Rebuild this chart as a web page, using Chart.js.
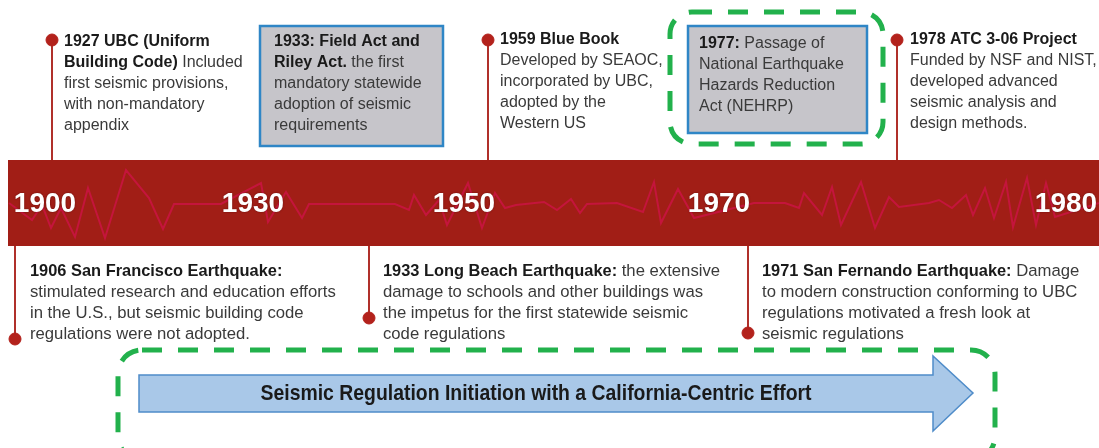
<!DOCTYPE html>
<html>
<head>
<meta charset="utf-8">
<script src="https://cdn.jsdelivr.net/npm/chart.js@4"></script>
<style>
  body { margin: 0; background: #ffffff; }
  #wrap { width: 1099px; height: 448px; position: relative; }
</style>
</head>
<body>
<div id="wrap"><canvas id="timeline"></canvas></div>
<script>
// timeline years shown on the red band
var yearLabels = ['1900', '1930', '1950', '1970', '1980'];
var yearPos = [45, 253, 464, 719, 1066];

// seismograph trace along the band (position, amplitude)
var waveT = [9, 32, 42, 51, 61, 75, 88, 105, 126, 149, 163, 174, 221, 261, 268, 286, 302, 309,
  395, 409, 414, 426, 439, 447, 468, 482, 495, 505, 516, 544, 557, 571, 580, 587, 617, 643,
  654, 661, 678, 694, 754, 785, 799, 804, 822, 832, 841, 861, 875, 889, 899, 929, 939, 952,
  966, 973, 985, 994, 1006, 1013, 1027, 1036, 1046, 1055, 1099];
var waveAmp = [0, -17, -2, -25, -5, -34, 15, -35, 33, 5, -26, -1, -1, 20, -19, 11, -15, -1,
  -1, -7, 8, -12, 3, -22, 20, -25, 10, -5, -2, 1, -7, 4, -10, -1, 0, -9,
  21, -20, 14, -15, 0, 0, -5, 10, -12, 16, -22, 21, -25, 6, -4, 0, 3, -5,
  8, -12, 15, -15, 21, -24, 25, -22, 20, -14, 0];

// events above the band
var topYears = [1927, 1959, 1978];
var topPos = [52, 488, 897];
// events below the band
var bottomYears = [1906, 1933, 1971];
var bottomPos = [15, 369, 748];

var notes = {
  1927: ['**1927 UBC (Uniform**', '**Building Code)** Included', 'first seismic provisions,', 'with non-mandatory', 'appendix'],
  1959: ['**1959 Blue Book**', 'Developed by SEAOC,', 'incorporated by UBC,', 'adopted by the', 'Western US'],
  1978: ['**1978 ATC 3-06 Project**', 'Funded by NSF and NIST,', 'developed advanced', 'seismic analysis and', 'design methods.'],
  1906: ['**1906 San Francisco Earthquake:**', 'stimulated research and education efforts', 'in the U.S., but seismic building code', 'regulations were not adopted.'],
  1933: ['**1933 Long Beach Earthquake:** the extensive', 'damage to schools and other buildings was', 'the impetus for the first statewide seismic', 'code regulations'],
  1971: ['**1971 San Fernando Earthquake:** Damage', 'to modern construction conforming to UBC', 'regulations motivated a fresh look at', 'seismic regulations']
};
var boxNotes = {
  field: ['**1933: Field Act and**', '**Riley Act.** the first', 'mandatory statewide', 'adoption of seismic', 'requirements'],
  nehrp: ['**1977:** Passage of', 'National Earthquake', 'Hazards Reduction', 'Act (NEHRP)']
};
var arrowText = 'Seismic Regulation Initiation with a California-Centric Effort';

var FONT = '"Liberation Sans", Arial, sans-serif';
var RED = '#a11e16';
var DOT = '#b3221c';
var GREEN = '#22b14c';
var bottomDotY = [339, 318, 333];

// draw one line with **bold** parts
function richLine(ctx, str, x, y, boldSize, normSize) {
  var parts = str.split('**');
  for (var i = 0; i < parts.length; i++) {
    if (!parts[i]) continue;
    var bold = i % 2 === 1;
    ctx.font = bold ? 'bold ' + boldSize + 'px ' + FONT : normSize + 'px ' + FONT;
    ctx.fillStyle = bold ? '#1a1a1a' : '#3a3a3a';
    ctx.fillText(parts[i], x, y);
    x += ctx.measureText(parts[i]).width;
  }
}

function textBlock(ctx, lines, x, y, boldSize, normSize) {
  ctx.textAlign = 'left';
  ctx.textBaseline = 'middle';
  lines.forEach(function(l, i) { richLine(ctx, l, x, y + i * 21, boldSize || 16, normSize || 16); });
}

function dashedRound(ctx, x, y, w, h, r) {
  ctx.save();
  ctx.strokeStyle = GREEN;
  ctx.lineWidth = 5;
  ctx.setLineDash([20, 16]);
  ctx.beginPath();
  ctx.roundRect(x, y, w, h, r);
  ctx.stroke();
  ctx.restore();
}

function greyBox(ctx, x, y, w, h) {
  ctx.save();
  ctx.fillStyle = '#c6c5ca';
  ctx.fillRect(x, y, w, h);
  ctx.strokeStyle = '#2f86c6';
  ctx.lineWidth = 2.5;
  ctx.strokeRect(x, y, w, h);
  ctx.restore();
}

var backdrop = {
  id: 'backdrop',
  beforeDatasetsDraw: function(chart) {
    var ctx = chart.ctx;
    var xs = chart.scales.x, ys = chart.scales.y;
    ctx.save();
    // stems
    ctx.strokeStyle = '#b0302a';
    ctx.lineWidth = 2;
    topPos.forEach(function(p) {
      ctx.beginPath();
      ctx.moveTo(xs.getPixelForValue(p), ys.getPixelForValue(40));
      ctx.lineTo(xs.getPixelForValue(p), ys.getPixelForValue(160));
      ctx.stroke();
    });
    bottomPos.forEach(function(p, i) {
      ctx.beginPath();
      ctx.moveTo(xs.getPixelForValue(p), ys.getPixelForValue(246));
      ctx.lineTo(xs.getPixelForValue(p), ys.getPixelForValue(bottomDotY[i]));
      ctx.stroke();
    });
    // red band
    ctx.fillStyle = RED;
    ctx.fillRect(xs.getPixelForValue(8), ys.getPixelForValue(160), chart.width, ys.getPixelForValue(246) - ys.getPixelForValue(160));
    ctx.restore();
  },
  afterDatasetsDraw: function(chart) {
    var ctx = chart.ctx;
    var xs = chart.scales.x;
    ctx.save();
    // year labels
    ctx.font = 'bold 28px ' + FONT;
    ctx.textAlign = 'center';
    ctx.textBaseline = 'middle';
    ctx.fillStyle = '#ffffff';
    ctx.shadowColor = 'rgba(60,0,0,0.6)';
    ctx.shadowBlur = 2;
    yearLabels.forEach(function(l, i) {
      ctx.fillText(l, xs.getPixelForValue(yearPos[i]), 204);
    });
    ctx.restore();

    ctx.save();
    // boxes
    greyBox(ctx, 260, 26, 183, 120);
    greyBox(ctx, 688, 26, 179, 107);
    dashedRound(ctx, 670, 12, 213, 132, 22);
    textBlock(ctx, boxNotes.field, 274, 42);
    textBlock(ctx, boxNotes.nehrp, 699, 44);

    // event texts
    textBlock(ctx, notes[1927], 64, 42);
    textBlock(ctx, notes[1959], 500, 40);
    textBlock(ctx, notes[1978], 910, 40);
    textBlock(ctx, notes[1906], 30, 271, 16.4, 16.7);
    textBlock(ctx, notes[1933], 383, 271, 16.4, 16.7);
    textBlock(ctx, notes[1971], 762, 271, 16.4, 16.7);

    // bottom arrow
    dashedRound(ctx, 118, 350, 877, 110, 24);
    ctx.beginPath();
    ctx.moveTo(139, 375);
    ctx.lineTo(933, 375);
    ctx.lineTo(933, 356);
    ctx.lineTo(973, 393);
    ctx.lineTo(933, 431);
    ctx.lineTo(933, 412);
    ctx.lineTo(139, 412);
    ctx.closePath();
    ctx.fillStyle = '#a9c8e8';
    ctx.fill();
    ctx.strokeStyle = '#4f8cc9';
    ctx.lineWidth = 1.5;
    ctx.stroke();
    ctx.font = 'bold 22px ' + FONT;
    ctx.fillStyle = '#1a1a1a';
    ctx.textAlign = 'center';
    ctx.textBaseline = 'middle';
    var w = ctx.measureText(arrowText).width;
    ctx.translate(536, 394);
    ctx.scale(551 / w, 1);
    ctx.fillText(arrowText, 0, 0);
    ctx.restore();
  }
};

var ctx = document.getElementById('timeline').getContext('2d');
var chart = new Chart(ctx, {
  type: 'scatter',
  data: {
    datasets: [{
      label: 'trace',
      data: waveT.map(function(t, i) { return { x: t, y: waveAmp[i] }; }),
      yAxisID: 'yw',
      showLine: true,
      borderColor: '#c4153c',
      borderWidth: 2,
      pointRadius: 0,
      tension: 0
    }, {
      label: 'top events',
      data: topPos.map(function(p) { return { x: p, y: 40 }; }),
      yAxisID: 'y',
      pointRadius: 6,
      backgroundColor: DOT,
      borderColor: DOT
    }, {
      label: 'bottom events',
      data: bottomPos.map(function(p, i) { return { x: p, y: bottomDotY[i] }; }),
      yAxisID: 'y',
      pointRadius: 6,
      backgroundColor: DOT,
      borderColor: DOT
    }]
  },
  options: {
    responsive: true,
    maintainAspectRatio: false,
    animation: false,
    layout: { padding: 0, autoPadding: false },
    plugins: { legend: { display: false }, tooltip: { enabled: false } },
    scales: {
      x: { type: 'linear', min: 0, max: 1099, display: false },
      y: { type: 'linear', min: 0, max: 448, reverse: true, display: false },
      yw: { type: 'linear', min: -245, max: 203, display: false }
    }
  },
  plugins: [backdrop]
});
</script>
</body>
</html>
